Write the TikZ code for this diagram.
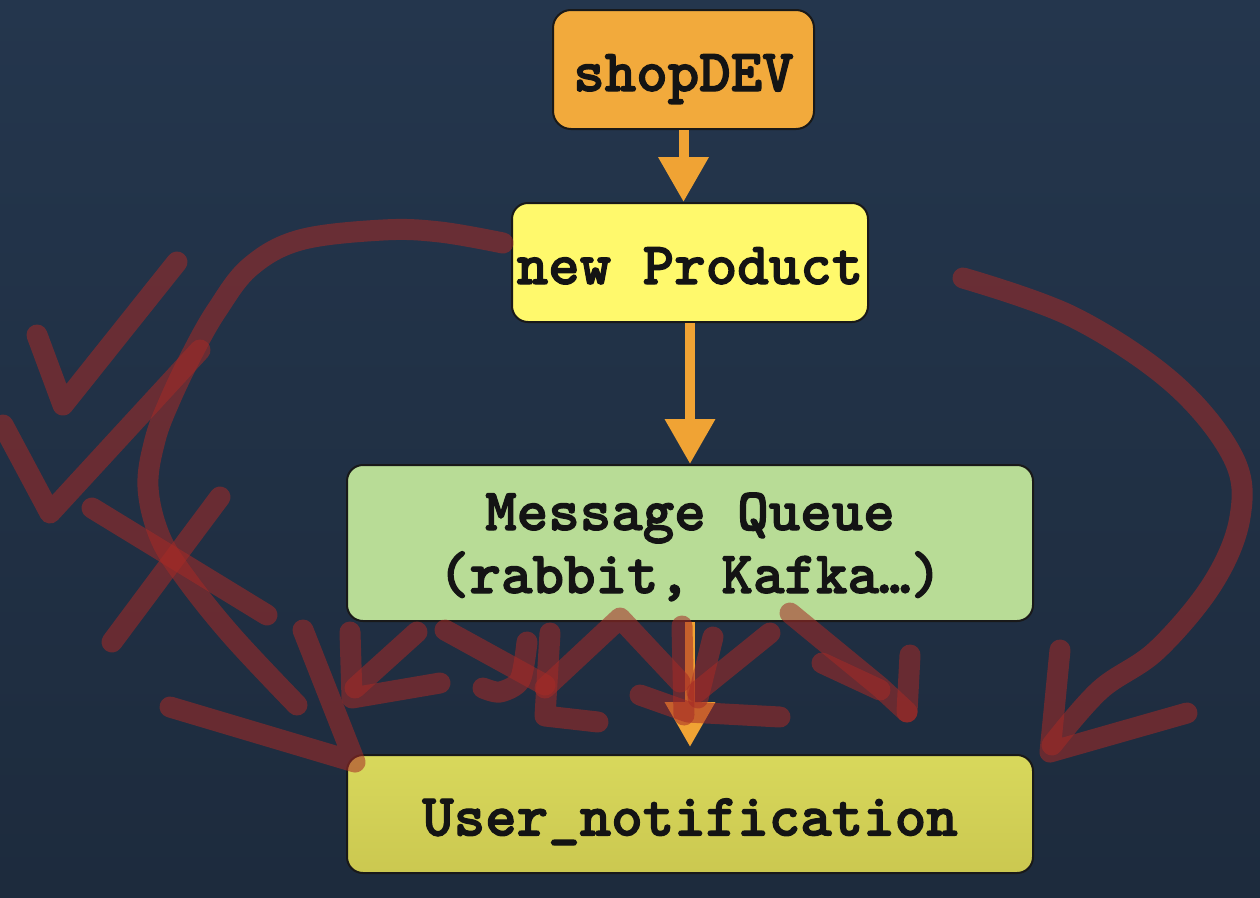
\documentclass[tikz,border=0pt]{standalone}
\usepackage{fontspec}
\usetikzlibrary{arrows.meta}

\newfontfamily\boxfont{lmmonolt10-bold.otf}[FakeBold=2]

\definecolor{bgtop}{RGB}{36,54,77}
\definecolor{bgbot}{RGB}{29,43,61}
\definecolor{boxorange}{RGB}{242,170,60}
\definecolor{boxyellow}{RGB}{255,249,108}
\definecolor{boxgreen}{RGB}{184,220,150}
\definecolor{olivetop}{RGB}{216,216,92}
\definecolor{olivebot}{RGB}{203,200,80}
\definecolor{flowcol}{RGB}{240,163,52}
\definecolor{inkred}{RGB}{165,42,38}

\begin{document}
\begin{tikzpicture}[
    x=1pt, y=-1pt,
    box/.style={draw=black!90, line width=2pt, rounded corners=16pt, inner sep=0pt,
        font=\fontsize{60}{63}\selectfont\boxfont, text=black!92, align=center,
        text height=43pt, text depth=0pt},
    flow/.style={-{Triangle[width=48pt,length=45pt]}, line width=10pt, flowcol},
    ink/.style={line width=21pt, line cap=round, line join=round, inkred, opacity=0.55},
]

% === Background ===
\useasboundingbox (0,0) rectangle (1260,897);
\shade[top color=bgtop, bottom color=bgbot] (0,0) rectangle (1260,897);

% === Boxes ===
\node[box, fill=boxorange, minimum width=261pt, minimum height=119pt, rounded corners=18pt]
    (shopdev) at (683.5,69.5) {shopDEV};
\node[box, fill=boxyellow, minimum width=356pt, minimum height=119pt]
    (product) at (690,262.5) {new Product};
% last line sits on the baseline, so push it down
\node[box, fill=boxgreen, minimum width=686pt, minimum height=156pt,
    text height=110pt, text depth=10pt]
    (queue) at (690,543) {Message Queue\\(rabbit, Kafka\dots)};
\node[box, top color=olivetop, bottom color=olivebot, minimum width=686pt, minimum height=118pt]
    (notif) at (690,814) {User\_notification};

% === Flow arrows ===
\draw[flow] (shopdev.south) -- (shopdev.south |- product.north);
\draw[flow] (product.south) -- (queue.north);
\draw[flow, shorten >=7pt] (queue.south) -- (notif.north);

% === Hand-drawn marks (left side) ===
\draw[ink] plot[smooth, tension=0.6] coordinates {(503,243) (440,232) (383,230) (300,240)
    (250,267) (217,310) (193,352) (170,400) (155,440) (148,487) (160,537) (187,580)
    (233,637) (297,705)};
\draw[ink] (303,630) -- (355,762) -- (170,707);
\draw[ink] (37,335) -- (63,405) -- (177,262);
\draw[ink] (3,425) -- (50,513) -- (200,350);
\draw[ink] (92,508) -- (267,615);
\draw[ink] (220,497) -- (112,642);

% === Hand-drawn marks (under the queue) ===
\draw[ink] (350,632) -- (352,698) -- (440,683);
\draw[ink] (417,632) -- (355,688);
\draw[ink] (445,630) -- (545,685);
\draw[ink] plot[smooth] coordinates {(527,642) (520,680) (500,692) (483,688)};
\draw[ink] (550,633) -- (545,716) -- (598,722);
\draw[ink] (545,688) -- (620,618) -- (680,682);
\draw[ink] (682,626) -- (684,715);
\draw[ink] (713,637) -- (698,698);
\draw[ink] (770,633) -- (697,692);
\draw[ink] (640,695) -- (688,712) -- (780,717);
\draw[ink] (790,613) -- (880,687) -- (907,712);
\draw[ink] (822,663) -- (880,690);
\draw[ink] (910,655) -- (907,712);

% === Hand-drawn marks (right side) ===
\draw[ink] plot[smooth, tension=0.6] coordinates {(963,278) (1073,317) (1173,383) (1233,457)
    (1240,517) (1213,583) (1157,650) (1100,690) (1052,745)};
\draw[ink] (1060,650) -- (1050,752) -- (1187,713);

\end{tikzpicture}
\end{document}
